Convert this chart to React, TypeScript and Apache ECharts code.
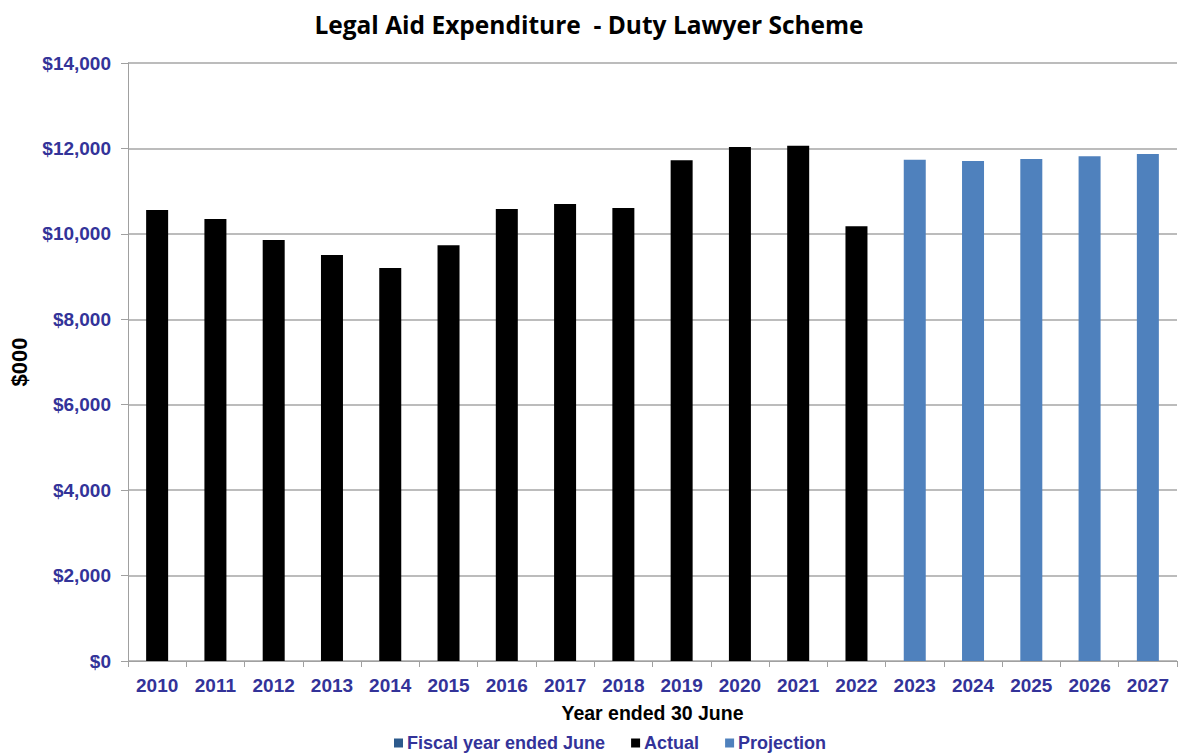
import React, { useEffect, useRef } from "react";
import * as echarts from "echarts";

const years = ["2010","2011","2012","2013","2014","2015","2016","2017","2018","2019","2020","2021","2022","2023","2024","2025","2026","2027"];
const actual = [10560,10350,9856,9505,9200,9732,10582,10699,10605,11722,12033,12064,10177,null,null,null,null,null];
const projection = [null,null,null,null,null,null,null,null,null,null,null,null,null,11737,11706,11752,11815,11869];
const yTicks = [0,2000,4000,6000,8000,10000,12000,14000];

export default function App() {
  const ref = useRef<HTMLDivElement>(null);
  useEffect(() => {
    const chart = echarts.init(ref.current!, null, { renderer: "svg" });
    const labelColor = "#333399";
    const font = "'Liberation Sans', Arial, sans-serif";
    chart.setOption({
      animation: false,
      backgroundColor: "#ffffff",
      title: {
        text: "Legal Aid Expenditure  - Duty Lawyer Scheme",
        left: "center",
        top: 7,
        textStyle: { fontFamily: "'Open Sans', sans-serif", fontWeight: "bold", fontSize: 24.5, color: "#000" },
      },
      legend: {
        left: 394,
        top: 734,
        padding: 0,
        itemWidth: 9,
        itemHeight: 9,
        itemGap: 26,
        icon: "rect",
        textStyle: { fontFamily: font, fontWeight: "bold", fontSize: 18, color: labelColor, padding: [0, 0, 0, -1] },
        data: ["Fiscal year ended June", "Actual", "Projection"],
      },
      grid: { left: 128, right: 1, top: 63, bottom: 92, containLabel: false },
      xAxis: {
        type: "category",
        data: years,
        name: "Year ended 30 June",
        nameLocation: "middle",
        nameGap: 42,
        nameTextStyle: { fontFamily: font, fontWeight: "bold", fontSize: 19.5, color: "#000" },
        axisLine: { lineStyle: { color: "#a0a0a0", width: 1 } },
        axisTick: { show: true, alignWithLabel: false, length: 6, lineStyle: { color: "#a0a0a0" } },
        axisLabel: { fontFamily: font, fontWeight: "bold", fontSize: 19, color: labelColor, margin: 15 },
      },
      yAxis: {
        type: "value",
        min: 0,
        max: 14000,
        interval: 2000,
        name: "$000",
        nameLocation: "middle",
        nameRotate: 90,
        nameGap: 98,
        nameTextStyle: { fontFamily: font, fontWeight: "bold", fontSize: 22, color: "#000" },
        axisLine: { show: true, lineStyle: { color: "#a0a0a0", width: 1 } },
        axisTick: { show: true, length: 7, inside: false, lineStyle: { color: "#a0a0a0" } },
        splitLine: { lineStyle: { color: "#a6a6a6", width: 1.5 } },
        axisLabel: {
          fontFamily: font,
          fontWeight: "bold",
          fontSize: 19,
          color: labelColor,
          margin: 17,
          formatter: (v: number) => (yTicks.includes(v) ? "$" + v.toLocaleString("en-US") : ""),
        },
      },
      series: [
        {
          name: "Fiscal year ended June",
          type: "bar",
          data: [],
          itemStyle: { color: "#2c5a8c" },
        },
        {
          name: "Actual",
          type: "bar",
          data: actual,
          barWidth: 22,
          barGap: "-100%",
          itemStyle: { color: "#000000" },
        },
        {
          name: "Projection",
          type: "bar",
          data: projection,
          barWidth: 22,
          barGap: "-100%",
          itemStyle: { color: "#4f81bd" },
        },
      ],
    });
    return () => chart.dispose();
  }, []);
  return (
    <div
      ref={ref}
      style={{ position: "fixed", left: 0, top: 0, width: 1178, height: 753, background: "#fff" }}
    />
  );
}
